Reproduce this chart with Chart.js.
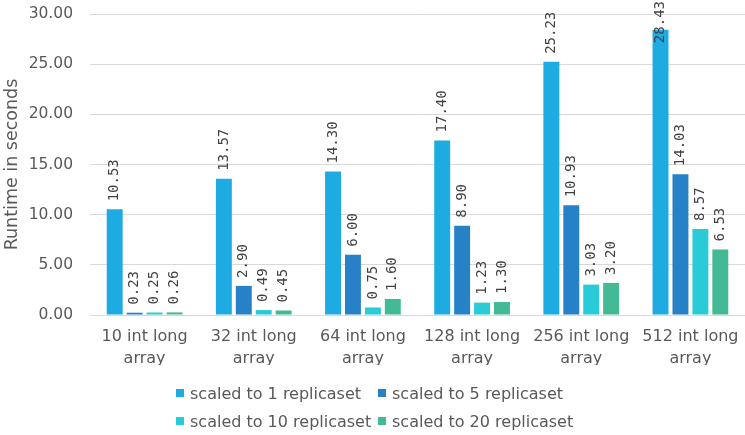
<!DOCTYPE html>
<html>
<head>
<meta charset="utf-8">
<script src="https://cdn.jsdelivr.net/npm/chart.js@4.4.1/dist/chart.umd.min.js"></script>
<style>
  html, body { margin: 0; padding: 0; background: #fff; }
  #wrap { position: relative; width: 745px; height: 435px; }
  #legend {
    position: absolute; left: 176px; top: 383px;
    display: grid; grid-template-columns: 202px 220px; row-gap: 8px;
    font-family: "DejaVu Sans", sans-serif; font-size: 16px; color: #595959;
  }
  #legend div { display: flex; align-items: center; white-space: nowrap; height: 20px; }
  #legend span.box { width: 8px; height: 8px; margin-right: 6px; display: inline-block; }
</style>
</head>
<body>
<div id="wrap">
  <canvas id="myChart" width="745" height="435"></canvas>
  <div id="legend"></div>
</div>
<script>
// data
const categories = [
  ['10 int long', 'array'],
  ['32 int long', 'array'],
  ['64 int long', 'array'],
  ['128 int long', 'array'],
  ['256 int long', 'array'],
  ['512 int long', 'array']
];
const seriesNames = ['scaled to 1 replicaset', 'scaled to 5 replicaset', 'scaled to 10 replicaset', 'scaled to 20 replicaset'];
const replica1 = [10.53, 13.57, 14.30, 17.40, 25.23, 28.43];
const replica5 = [0.23, 2.90, 6.00, 8.90, 10.93, 14.03];
const replica10 = [0.25, 0.49, 0.75, 1.23, 3.03, 8.57];
const replica20 = [0.26, 0.45, 1.60, 1.30, 3.20, 6.53];
const yTicks = [0, 5, 10, 15, 20, 25, 30];
const colors = ['#1eabe2', '#2781c6', '#28cbd6', '#43b996'];

const textColor = '#595959';
const font = 'DejaVu Sans';

// value labels, rotated and placed above each bar
const barLabels = {
  id: 'barLabels',
  afterDatasetsDraw(chart) {
    const ctx = chart.ctx;
    ctx.save();
    ctx.font = '14px "DejaVu Sans Mono"';
    ctx.fillStyle = '#404040';
    ctx.textAlign = 'left';
    ctx.textBaseline = 'middle';
    chart.data.datasets.forEach((ds, i) => {
      const meta = chart.getDatasetMeta(i);
      meta.data.forEach((bar, j) => {
        const txt = ds.data[j].toFixed(2);
        const w = ctx.measureText(txt).width;
        let start = bar.y - 8;
        if (start - w < 1) start = w + 1;
        ctx.save();
        ctx.translate(bar.x, start);
        ctx.rotate(-Math.PI / 2);
        ctx.fillText(txt, 0, 0);
        ctx.restore();
      });
    });
    ctx.restore();
  }
};

const data = {
  labels: categories,
  datasets: [replica1, replica5, replica10, replica20].map((vals, i) => ({
    label: seriesNames[i],
    data: vals,
    backgroundColor: colors[i],
    borderWidth: 0
  }))
};

const chart = new Chart(document.getElementById('myChart'), {
  type: 'bar',
  data: data,
  options: {
    responsive: false,
    animation: false,
    layout: { padding: { top: 14, right: 0, bottom: 70, left: 0 } },
    datasets: { bar: { categoryPercentage: 0.73, barPercentage: 0.8 } },
    plugins: {
      legend: { display: false },
      tooltip: { enabled: false }
    },
    scales: {
      x: {
        grid: { display: false, drawTicks: false },
        border: { display: false },
        ticks: { color: textColor, font: { family: font, size: 16, lineHeight: 1.35 }, maxRotation: 0, padding: 11 },
        afterFit: (axis) => { axis.height = 50; axis.paddingLeft = 0; axis.paddingRight = 0; }
      },
      y: {
        min: 0,
        max: 30,
        afterBuildTicks: (axis) => { axis.ticks = yTicks.map(v => ({ value: v })); },
        grid: { color: '#d9d9d9', drawTicks: false },
        border: { display: false },
        ticks: {
          color: textColor,
          font: { family: font, size: 15.5 },
          padding: 17,
          callback: (v) => Number(v).toFixed(2)
        },
        title: {
          display: true,
          text: 'Runtime in seconds',
          color: textColor,
          font: { family: font, size: 17.5 },
          padding: { top: 2, bottom: 0 }
        },
        afterFit: (axis) => { axis.width = 90; axis.paddingTop = 0; axis.paddingBottom = 0; }
      }
    }
  },
  plugins: [barLabels]
});

// legend as two columns, built from the chart's datasets
const legendEl = document.getElementById('legend');
chart.data.datasets.forEach((ds) => {
  const item = document.createElement('div');
  const box = document.createElement('span');
  box.className = 'box';
  box.style.background = ds.backgroundColor;
  item.appendChild(box);
  item.appendChild(document.createTextNode(ds.label));
  legendEl.appendChild(item);
});
</script>
</body>
</html>
